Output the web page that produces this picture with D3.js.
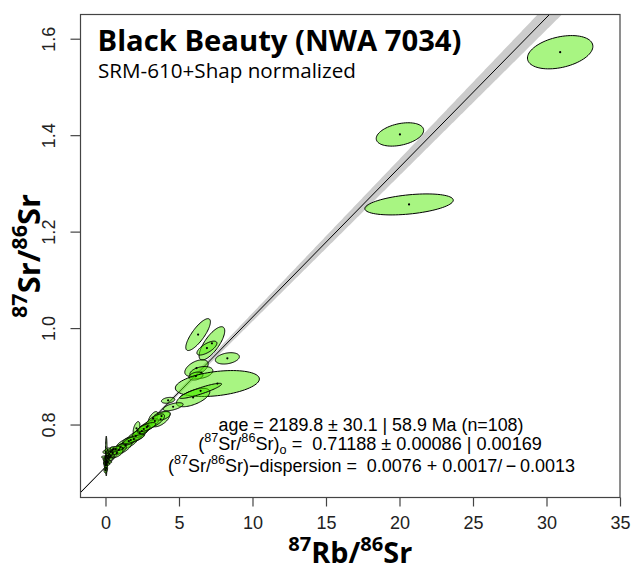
<!DOCTYPE html>
<html><head><meta charset="utf-8">
<script src="https://cdn.jsdelivr.net/npm/d3@7"></script>
<style>body{margin:0;background:#fff}svg{display:block}</style>
</head><body>
<svg id="c" width="634" height="575"></svg>
<script>
// ---- data ----
const rbSr    = [30.93,20.03,20.65, 6.30,7.24,6.90,8.29,6.19,6.52,6.15,7.61,5.96,6.47, 4.26,4.60,3.24,3.75,3.81,2.11,2.879,2.471,3.356,
  1.722,1.382,2.063,1.178,2.335,0.905,2.607,1.587,0.769,2.811,1.926,1.042,
  0.054,0.020,0.123,0.191,0.010,0.259,0.361,0.088,0.041,0.463,0.565,0.157,0.005,0.293,0.701,0.020,
  0.000,0.020,0.088,0.225,0.361,0.497,0.000,0.157];
const rbSrErr = [0.909,0.659,1.229, 0.342,0.356,0.278,0.334,0.325,0.320,0.195,1.168,0.464,0.584, 0.186,0.278,0.139,0.256,0.250,0.092,0.30,0.23,0.27,
  0.39,0.31,0.25,0.25,0.21,0.21,0.17,0.17,0.17,0.25,0.29,0.12,
  0.022,0.056,0.070,0.083,0.042,0.083,0.083,0.097,0.042,0.083,0.111,0.111,0.070,0.139,0.111,0.056,
  0.111,0.083,0.083,0.111,0.111,0.139,0.042,0.083];
const srSr    = [1.572,1.4015,1.2564, 0.9865,0.9683,0.9585,0.9372,0.9171,0.9078,0.9005,0.885,0.856,0.8698, 0.8502,0.8369,0.8129,0.8110,0.8176,0.7921,0.7969,0.7865,0.8073,
  0.7679,0.7575,0.7762,0.7513,0.7824,0.7472,0.7907,0.7658,0.7409,0.7948,0.7699,0.7534,
  0.7347,0.7223,0.7306,0.7347,0.7161,0.7389,0.7430,0.7264,0.7098,0.7472,0.7492,0.7223,0.7285,0.7326,0.7492,0.7200,
  0.7326,0.7430,0.7181,0.7285,0.7347,0.7409,0.7055,0.7472];
const srSrErr = [0.0141,0.0099,0.0089, 0.0135,0.0141,0.0059,0.0048,0.0070,0.0051,0.0034,0.0110,0.0078,0.0064, 0.0025,0.0034,0.0057,0.0064,0.0040,0.0057,0.0060,0.0050,0.0060,
  0.0060,0.0050,0.0050,0.0055,0.0040,0.0040,0.0040,0.0032,0.0038,0.0038,0.0038,0.0025,
  0.0169,0.00254,0.00212,0.00169,0.00254,0.00212,0.00169,0.00127,0.00254,0.00212,0.00212,0.00127,0.0017,0.00127,0.00254,0.0017,
  0.0010,0.0013,0.0013,0.0017,0.0013,0.0017,0.0025,0.0017];
const errCorr = [0.35,0.35,0.4, 0.8,0.75,0.7,0.3,0.5,0.3,0.3,0.35,0.6,0.9, 0.3,0.6,0.6,0.6,0.5,0.5,0.8,0.7,0.7,
  0.85,0.8,0.7,0.7,0.6,0.6,0.5,0.4,0.5,0.7,0.8,0.3,
  0,0,0,0,0,0,0,0,0,0,0,0,0,0,0.5,0,
  0,0,0,0.3,0.3,0.4,0,0.3];

const xTicks = [0,5,10,15,20,25,30,35];
const yTicks = [0.8,1.0,1.2,1.4,1.6];
const yTickLabels = ["0.8","1.0","1.2","1.4","1.6"];
const xDomain = [-1.7, 35];
const yDomain = [0.6487, 1.6502];

const age = 2189.8, ageErr = 30.1, ageCI = 58.9, nPts = 108;
const initRatio = 0.71188, initErr = 0.00086, initCI = 0.00169;
const lambdaRb = 1.3972e-5; // per Ma

// ---- layout ----
const L = 80.5, R = 620, T = 14.5, B = 497.5;
const svg = d3.select('#c');
const x = d3.scaleLinear().domain(xDomain).range([L, R]);
const y = d3.scaleLinear().domain(yDomain).range([B, T]);

svg.append('defs').append('clipPath').attr('id','clip')
  .append('rect').attr('x',L).attr('y',T).attr('width',R-L).attr('height',B-T);
const plot = svg.append('g').attr('clip-path','url(#clip)');

// isochron line and envelope
const slope = Math.expm1(lambdaRb*age);
const slopeCI = lambdaRb*Math.exp(lambdaRb*age)*ageCI;
const xs = d3.range(xDomain[0], xDomain[1]+0.05, 0.05);
const half = v => Math.sqrt(initCI*initCI + (v*slopeCI)*(v*slopeCI));
plot.append('path').datum(xs)
  .attr('d', d3.area().x(v=>x(v)).y0(v=>y(initRatio+slope*v-half(v))).y1(v=>y(initRatio+slope*v+half(v))))
  .attr('fill','#cccccc');
plot.append('path').datum(xDomain)
  .attr('d', d3.line().x(v=>x(v)).y(v=>y(initRatio+slope*v)))
  .attr('stroke','#000').attr('stroke-width',1).attr('fill','none');

// error ellipses (95%)
const k = Math.sqrt(-2*Math.log(0.05));
const th = d3.range(0, 2*Math.PI, Math.PI/40);
const ell = rbSr.map((v,i)=>({X:v, sx:rbSrErr[i], Y:srSr[i], sy:srSrErr[i], r:errCorr[i]}));
const eLine = d3.line().curve(d3.curveLinearClosed);
plot.selectAll('path.ell').data(ell).join('path').attr('class','ell')
  .attr('d', e => eLine(th.map(t => [
      x(e.X + k*e.sx*Math.cos(t)),
      y(e.Y + k*e.sy*(e.r*Math.cos(t) + Math.sqrt(1-e.r*e.r)*Math.sin(t)))])))
  .attr('fill','rgb(81,235,5)').attr('fill-opacity',0.5)
  .attr('stroke','#000').attr('stroke-width',1);
plot.selectAll('circle.pt').data(ell).join('circle').attr('class','pt')
  .attr('cx', e=>x(e.X)).attr('cy', e=>y(e.Y)).attr('r',1.1).attr('fill','#000');

// axes
const ax = svg.append('g').attr('transform',`translate(0,${B})`)
  .call(d3.axisBottom(x).tickValues(xTicks).tickSize(9).tickPadding(10).tickFormat(d3.format('d')));
ax.select('.domain').remove();
ax.selectAll('line').attr('stroke','#444').attr('stroke-width',1.2);
ax.selectAll('text').attr('font-family','Liberation Sans, Arial, sans-serif').attr('font-size',18).attr('fill','#222');

const ay = svg.append('g').attr('transform',`translate(${L},0)`)
  .call(d3.axisLeft(y).tickValues(yTicks).tickSize(10).tickFormat((d,i)=>yTickLabels[i]));
ay.select('.domain').remove();
ay.selectAll('line').attr('stroke','#444').attr('stroke-width',1.2);
ay.selectAll('text').attr('x',null).attr('dy',null).attr('text-anchor','middle')
  .attr('transform','translate(-26,0) rotate(-90)')
  .attr('font-family','Liberation Sans, Arial, sans-serif').attr('font-size',18).attr('fill','#222');

svg.append('rect').attr('x',L).attr('y',T).attr('width',R-L).attr('height',B-T)
  .attr('fill','none').attr('stroke','#444').attr('stroke-width',1.2);

// rich text helper
function rich(parent, parts, attrs, target){
  const t = parent.append('text');
  Object.entries(attrs).forEach(([a,v])=>t.attr(a,v));
  let shift = 0;
  parts.forEach(p=>{
    const s = t.append('tspan').text(p.t);
    if(p.sup){ s.attr('font-size','70%').attr('dy', (-0.42/0.7 - shift/0.7)+'em'); shift = -0.42; }
    else if(p.sub){ s.attr('font-size','70%').attr('dy', (0.22/0.7 - shift/0.7)+'em'); shift = 0.22; }
    else { s.attr('dy', (-shift)+'em'); shift = 0; }
  });
  if(target){
    const w = t.node().getComputedTextLength();
    const fs = parseFloat(t.attr('font-size'));
    t.attr('font-size', fs*target/w);
  }
  return t;
}

// title
rich(svg, [{t:'Black Beauty (NWA 7034)'}], {x:97.5, y:51, 'font-family':'Open Sans, sans-serif','font-weight':700,'font-size':24,fill:'#000'}, 364);
rich(svg, [{t:'SRM-610+Shap normalized'}], {x:98, y:78, 'font-family':'Open Sans, sans-serif','font-size':18,fill:'#000'}, 258);

// axis titles
rich(svg, [{t:'87',sup:true},{t:'Rb/'},{t:'86',sup:true},{t:'Sr'}],
  {x:(L+R)/2, y:563, 'text-anchor':'middle','font-family':'Open Sans, sans-serif','font-weight':700,'font-size':24,fill:'#000'}, 124);
rich(svg, [{t:'87',sup:true},{t:'Sr/'},{t:'86',sup:true},{t:'Sr'}],
  {x:0, y:0, transform:`translate(40,${(T+B)/2}) rotate(-90)`, 'text-anchor':'middle','font-family':'Open Sans, sans-serif','font-weight':700,'font-size':24,fill:'#000'}, 124);

// annotation
const fmt = (v,d)=>v.toFixed(d);
const af = {'text-anchor':'middle','font-family':'Liberation Sans, Arial, sans-serif','font-size':18,fill:'#000'};
rich(svg, [{t:`age = ${fmt(age,1)} \u00b1 ${fmt(ageErr,1)} | ${fmt(ageCI,1)} Ma (n=${nPts})`}], {...af, x:371, y:430.7}, 305);
rich(svg, [{t:'('},{t:'87',sup:true},{t:'Sr/'},{t:'86',sup:true},{t:'Sr)'},{t:'o',sub:true},
  {t:`\u00a0= \u00a0${fmt(initRatio,5)} \u00b1 ${fmt(initErr,5)} | ${fmt(initCI,5)}`}], {...af, x:370, y:450}, 344);
rich(svg, [{t:'('},{t:'87',sup:true},{t:'Sr/'},{t:'86',sup:true},
  {t:'Sr)\u2212dispersion = \u00a00.0076 + 0.0017/\u2009\u2212\u20090.0013'}], {...af, x:371.5, y:471.7}, 407);
</script>
</body></html>
